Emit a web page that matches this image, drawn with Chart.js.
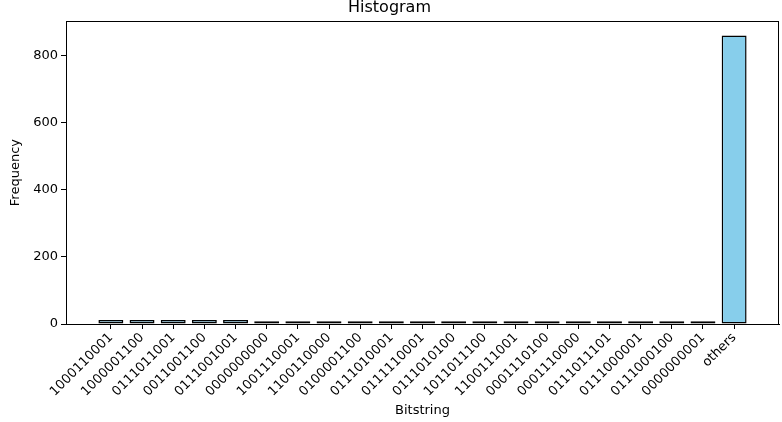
<!DOCTYPE html>
<html>
<head>
<meta charset="utf-8">
<script src="https://cdn.jsdelivr.net/npm/chart.js@4/dist/chart.umd.min.js"></script>
<style>
  html, body { margin: 0; padding: 0; background: #fff; }
  #wrap { width: 782px; height: 422px; }
</style>
</head>
<body>
<div id="wrap"><canvas id="histChart" width="782" height="422"></canvas></div>
<script>
// --- Data ---
const bitstrings = [
    "1000110001", "1000001100", "0111011001", "0011001100", "0111001001",
    "0000000000", "1001110001", "1100110000", "0100001100", "0111010001",
    "0111110001", "0111010100", "1011011100", "1100111001", "0001110100",
    "0001110000", "0111011101", "0111000001", "0111000100", "0000000001",
    "others"
];
const counts = [12, 12, 12, 12, 12, 8, 8, 8, 8, 8, 8, 8, 8, 8, 8, 8, 8, 8, 8, 8, 860];
const yTicks = [0, 200, 400, 600, 800];

Chart.defaults.font.family = "'DejaVu Sans', sans-serif";
Chart.defaults.color = '#000';

// draw the full box around the plot (matplotlib spines)
const frameBox = {
    id: 'frameBox',
    afterDraw(chart) {
        const a = chart.chartArea;
        const ctx = chart.ctx;
        ctx.save();
        ctx.strokeStyle = '#000';
        ctx.lineWidth = 1;
        ctx.strokeRect(Math.round(a.left) + 0.5, Math.round(a.top) + 0.5,
            Math.round(a.right - a.left) - 1, Math.round(a.bottom - a.top));
        ctx.restore();
    }
};

const ctx = document.getElementById('histChart').getContext('2d');
new Chart(ctx, {
    type: 'bar',
    data: {
        datasets: [{
            data: counts.map((v, i) => ({ x: i, y: v })),
            backgroundColor: '#87CEEB',
            borderColor: '#000',
            borderWidth: 1.5,
            borderSkipped: false,
            barPercentage: 1,
            categoryPercentage: 0.8
        }]
    },
    options: {
        responsive: false,
        animation: false,
        layout: { padding: { left: 0, right: 3, top: 0, bottom: 0 } },
        plugins: {
            legend: { display: false },
            tooltip: { enabled: false },
            title: {
                display: true,
                text: 'Histogram',
                font: { size: 16, weight: 'normal' },
                padding: { top: -2, bottom: 4 }
            }
        },
        scales: {
            x: {
                type: 'linear',
                offset: false,
                min: -1.44,
                max: 21.44,
                afterBuildTicks: (s) => { s.ticks = bitstrings.map((_, i) => ({ value: i })); },
                afterFit: (s) => { s.height = 98; },
                grid: { display: true, offset: false, drawOnChartArea: false, tickLength: 5, color: '#000' },
                border: { display: true, color: '#000' },
                ticks: {
                    autoSkip: false,
                    minRotation: 45,
                    maxRotation: 45,
                    padding: 1,
                    font: { size: 13 },
                    callback: (v) => bitstrings[v] ?? ''
                },
                title: {
                    display: true,
                    text: 'Bitstring',
                    font: { size: 13 },
                    padding: { top: 0, bottom: 4 }
                }
            },
            y: {
                min: 0,
                max: 903,
                afterBuildTicks: (s) => { s.ticks = yTicks.map(v => ({ value: v })); },
                afterFit: (s) => { s.width = 66; },
                grid: { display: true, drawOnChartArea: false, tickLength: 5, color: '#000' },
                border: { display: true, color: '#000' },
                ticks: { font: { size: 13 }, padding: 3 },
                title: {
                    display: true,
                    text: 'Frequency',
                    font: { size: 13 },
                    padding: { top: 8, bottom: 0 }
                }
            }
        }
    },
    plugins: [frameBox]
});
</script>
</body>
</html>
